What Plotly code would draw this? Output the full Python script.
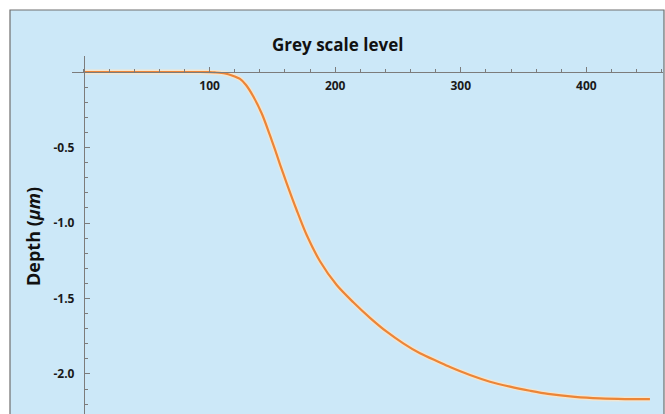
import plotly.graph_objects as go

# Data
grey_level = [0, 52.5, 92.4, 100.3, 104.3, 112.3, 117.8, 124.2, 129.0, 134.6, 141.7, 148.1,
              152.1, 156.1, 161.4, 169.3, 177.3, 187.9, 201.2, 214.4, 227.7, 241.0,
              254.2, 267.5, 282.1, 291.4, 307.3, 323.2, 339.2, 355.1, 369.4, 390.9,
              410.8, 430.7, 450.6]
depth = [0, 0, 0, -0.001, -0.003, -0.01, -0.023, -0.046, -0.086, -0.159, -0.278, -0.42,
         -0.514, -0.613, -0.737, -0.914, -1.08, -1.253, -1.411, -1.525, -1.628, -1.72,
         -1.797, -1.863, -1.919, -1.954, -2.007, -2.051, -2.084, -2.111, -2.132, -2.152,
         -2.162, -2.166, -2.166]

x_tickvals = [100, 200, 300, 400]
x_ticktext = ["100", "200", "300", "400"]
y_tickvals = [-0.5, -1.0, -1.5, -2.0]
y_ticktext = ["-0.5", "-1.0", "-1.5", "-2.0"]

W, H = 665, 414
L, R, T, B = 72, 2, 56, 0
xr = [-9.55, 461.0]
yr = [-2.265, 0.106]

pw = W - L - R
ph = H - T - B

def px_to_paper_x(px):
    return (px - L) / pw

def py_to_paper_y(py):
    return (H - B - py) / ph

x_pos = (0 - xr[0]) / (xr[1] - xr[0])
y_pos = (0 - yr[0]) / (yr[1] - yr[0])

fig = go.Figure()
fig.add_trace(go.Scatter(x=grey_level, y=depth, mode="lines",
                         line=dict(color="rgba(255,228,195,0.75)", width=5, shape="spline", smoothing=0.8),
                         hoverinfo="skip", showlegend=False))
fig.add_trace(go.Scatter(x=grey_level, y=depth, mode="lines",
                         line=dict(color="#EC8537", width=2.2, shape="spline", smoothing=0.8),
                         showlegend=False))

axis_col = "#7c7c7c"
tick_font = dict(family="Open Sans", size=12, color="#1a1a1a", weight="bold")

fig.update_layout(
    width=W, height=H,
    margin=dict(l=L, r=R, t=T, b=B, pad=0),
    paper_bgcolor="white",
    plot_bgcolor="rgba(0,0,0,0)",
    showlegend=False,
    xaxis=dict(range=xr, anchor="free", position=y_pos, side="bottom",
               showgrid=False, zeroline=False, showline=True, linecolor=axis_col, linewidth=1.2,
               tickmode="array", tickvals=x_tickvals, ticktext=x_ticktext,
               ticks="inside", ticklen=5, tickcolor=axis_col, tickwidth=1,
               tickfont=tick_font, ticklabelstandoff=2,
               minor=dict(tickmode="linear", tick0=0, dtick=20, ticks="inside", ticklen=3,
                          tickcolor=axis_col, showgrid=False)),
    yaxis=dict(range=yr, anchor="free", position=x_pos, side="left",
               showgrid=False, zeroline=False, showline=True, linecolor=axis_col, linewidth=1.2,
               tickmode="array", tickvals=y_tickvals, ticktext=y_ticktext,
               ticks="inside", ticklen=5, tickcolor=axis_col, tickwidth=1,
               tickfont=tick_font, ticklabelstandoff=7,
               minor=dict(tickmode="linear", tick0=0, dtick=0.1, ticks="inside", ticklen=3,
                          tickcolor=axis_col, showgrid=False)),
    shapes=[dict(type="rect", xref="paper", yref="paper", layer="below",
                 x0=px_to_paper_x(10), x1=px_to_paper_x(664),
                 y0=py_to_paper_y(430), y1=py_to_paper_y(10),
                 fillcolor="#CCE8F8", line=dict(color="#6e6e6e", width=1.2))],
    annotations=[
        dict(text="Grey scale level", xref="paper", yref="paper",
             x=px_to_paper_x(337), y=py_to_paper_y(45), xanchor="center", yanchor="middle",
             showarrow=False, font=dict(family="Open Sans", size=17, color="#111111", weight="bold")),
        dict(text="Depth (<i>μm</i>)", xref="paper", yref="paper",
             x=px_to_paper_x(33), y=py_to_paper_y(237), xanchor="center", yanchor="middle",
             textangle=-90, showarrow=False,
             font=dict(family="Open Sans", size=18, color="#111111", weight="bold")),
    ],
)

fig.write_html("out.html")
